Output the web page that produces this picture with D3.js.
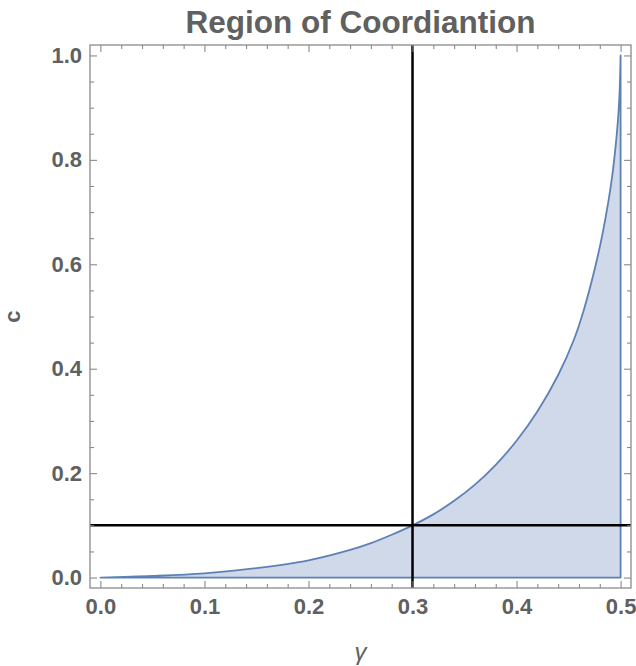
<!DOCTYPE html>
<html>
<head>
<meta charset="utf-8">
<script src="https://cdn.jsdelivr.net/npm/d3@7"></script>
<style>
  body { margin: 0; background: #fff; }
  svg { display: block; font-family: "Liberation Sans", Arial, sans-serif; }
</style>
</head>
<body>
<script>
// boundary of the region (gamma, c)
const gammaVals = [0, 0.05, 0.1, 0.15, 0.2, 0.24, 0.26, 0.28, 0.3, 0.32, 0.34, 0.36, 0.38, 0.4, 0.42, 0.44,
  0.455, 0.465, 0.475, 0.482, 0.488, 0.492, 0.495, 0.4975, 0.499, 0.5];
const cVals = [0, 0.003, 0.008, 0.018, 0.033, 0.053, 0.066, 0.082, 0.1, 0.121, 0.147, 0.178, 0.216, 0.262, 0.318, 0.388,
  0.455, 0.515, 0.59, 0.652, 0.717, 0.77, 0.822, 0.877, 0.928, 1.0];

// reference lines
const gammaLine = 0.3;
const cLine = 0.1;

// ticks
const xTicks = [0, 0.1, 0.2, 0.3, 0.4, 0.5];
const xMinor = [0.02, 0.04, 0.06, 0.08, 0.12, 0.14, 0.16, 0.18, 0.22, 0.24, 0.26, 0.28,
  0.32, 0.34, 0.36, 0.38, 0.42, 0.44, 0.46, 0.48];
const yTicks = [0, 0.2, 0.4, 0.6, 0.8, 1.0];
const yMinor = [0.05, 0.1, 0.15, 0.25, 0.3, 0.35, 0.45, 0.5, 0.55, 0.65, 0.7, 0.75, 0.85, 0.9, 0.95];

const width = 636;
const height = 666;
const margin = { top: 45, right: 5, bottom: 78, left: 90 };
const w = width - margin.left - margin.right;
const h = height - margin.top - margin.bottom;

const svg = d3.select("body").append("svg")
  .attr("width", width)
  .attr("height", height);

const g = svg.append("g")
  .attr("transform", `translate(${margin.left},${margin.top})`);

// 2% padding like Mathematica
const xScale = d3.scaleLinear().domain([-0.01, 0.51]).range([0, w]);
const yScale = d3.scaleLinear().domain([-0.02, 1.02]).range([h, 0]);

const pts = gammaVals.map((x, i) => [x, cVals[i]]);

// region: under the curve, above c=0, left of gamma=0.5
const curve = d3.line()
  .x(d => xScale(d[0]))
  .y(d => yScale(d[1]))
  .curve(d3.curveCatmullRom.alpha(0.5));

const regionPath = curve(pts) +
  `L${xScale(0.5)},${yScale(0)}L${xScale(0)},${yScale(0)}Z`;

g.append("path")
  .attr("d", regionPath)
  .attr("fill", "#cfd9e9")
  .attr("stroke", "#5e81b5")
  .attr("stroke-width", 1.8)
  .attr("stroke-linejoin", "round");

// black reference lines
g.append("line")
  .attr("x1", xScale(gammaLine)).attr("x2", xScale(gammaLine))
  .attr("y1", 0).attr("y2", h)
  .attr("stroke", "#000").attr("stroke-width", 2.5);

g.append("line")
  .attr("x1", 0).attr("x2", w)
  .attr("y1", yScale(cLine)).attr("y2", yScale(cLine))
  .attr("stroke", "#000").attr("stroke-width", 2.5);

// frame
g.append("rect")
  .attr("x", 0).attr("y", 0)
  .attr("width", w).attr("height", h)
  .attr("fill", "none")
  .attr("stroke", "#8a8a8a")
  .attr("stroke-width", 1.3);

const fmt = d3.format(".1f");

function styleAxis(sel) {
  sel.select(".domain").remove();
  sel.selectAll(".tick line").attr("stroke", "#8a8a8a").attr("stroke-width", 1.1);
  sel.selectAll(".tick text")
    .attr("fill", "#606060")
    .style("font-size", "22px")
    .style("font-weight", "bold");
}

// bottom
g.append("g").attr("transform", `translate(0,${h})`)
  .call(d3.axisBottom(xScale).tickValues(xTicks).tickFormat(fmt).tickSizeInner(-7).tickSizeOuter(0).tickPadding(10))
  .call(styleAxis);
g.append("g").attr("transform", `translate(0,${h})`)
  .call(d3.axisBottom(xScale).tickValues(xMinor).tickFormat("").tickSizeInner(-4).tickSizeOuter(0))
  .call(styleAxis);
// top
g.append("g")
  .call(d3.axisTop(xScale).tickValues(xTicks).tickFormat("").tickSizeInner(-7).tickSizeOuter(0))
  .call(styleAxis);
g.append("g")
  .call(d3.axisTop(xScale).tickValues(xMinor).tickFormat("").tickSizeInner(-4).tickSizeOuter(0))
  .call(styleAxis);
// left
g.append("g")
  .call(d3.axisLeft(yScale).tickValues(yTicks).tickFormat(fmt).tickSizeInner(-7).tickSizeOuter(0).tickPadding(8))
  .call(styleAxis);
g.append("g")
  .call(d3.axisLeft(yScale).tickValues(yMinor).tickFormat("").tickSizeInner(-4).tickSizeOuter(0))
  .call(styleAxis);
// right
g.append("g").attr("transform", `translate(${w},0)`)
  .call(d3.axisRight(yScale).tickValues(yTicks).tickFormat("").tickSizeInner(-7).tickSizeOuter(0))
  .call(styleAxis);
g.append("g").attr("transform", `translate(${w},0)`)
  .call(d3.axisRight(yScale).tickValues(yMinor).tickFormat("").tickSizeInner(-4).tickSizeOuter(0))
  .call(styleAxis);

// title
svg.append("text")
  .attr("x", margin.left + w / 2)
  .attr("y", 33)
  .attr("text-anchor", "middle")
  .attr("fill", "#606060")
  .style("font-size", "31.5px")
  .style("font-weight", "bold")
  .text("Region of Coordiantion");

// axis labels
svg.append("text")
  .attr("transform", `translate(20,${margin.top + h / 2}) rotate(-90)`)
  .attr("text-anchor", "middle")
  .attr("fill", "#606060")
  .style("font-size", "22px")
  .style("font-weight", "bold")
  .text("c");

svg.append("text")
  .attr("x", margin.left + w / 2)
  .attr("y", 660)
  .attr("text-anchor", "middle")
  .attr("fill", "#606060")
  .style("font-size", "24px")
  .style("font-style", "italic")
  .text("γ");
</script>
</body>
</html>
